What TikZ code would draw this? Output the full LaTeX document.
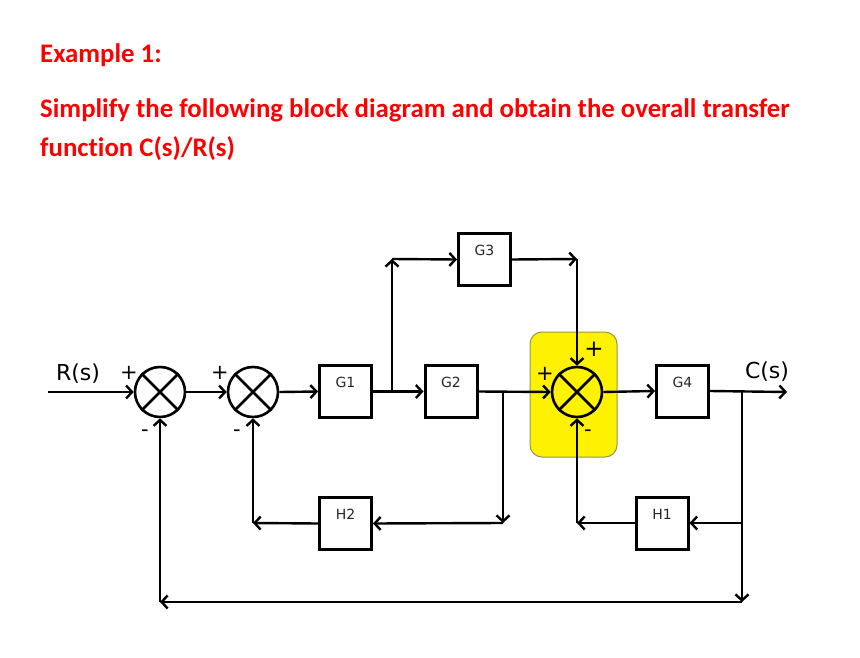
\documentclass[tikz,border=0pt]{standalone}
\usepackage{fontspec}
\setmainfont{Carlito}[Ligatures=NoCommon]
\newfontfamily\lblfont{DejaVu Sans}
\usetikzlibrary{arrows.meta}
\begin{document}
\begin{tikzpicture}[x=1pt,y=-1pt,
  wire/.style={line width=2.4pt},
  arr/.style={wire,-{Straight Barb[length=6pt,width=13pt,line width=2.4pt]}},
  blk/.style={draw,line width=3pt,minimum width=52pt,minimum height=52pt,inner sep=0pt,fill=white},
  sumc/.style={draw,circle,line width=2.6pt,minimum size=50pt,inner sep=0pt},
  blabel/.style={font=\lblfont\fontsize{14}{16}\selectfont,text=black!85},
  sgn/.style={font=\lblfont\fontsize{21}{24}\selectfont},
  title/.style={font=\fontsize{26.8}{30}\selectfont\bfseries,text=red,anchor=base west,inner sep=0pt}
]
\useasboundingbox (0,0) rectangle (860,658);
% title
\node[title] (t1) at (40,63) {Example 1:};
\node[title] (t2) at (40,118) {Simplify the following block diagram and obtain the overall transfer};
\node[title] (t3) at (40,157) {function C(s)/R(s)};
% highlight
\node[draw=black!45!yellow,fill=yellow,line width=1pt,rounded corners=12pt,minimum width=87pt,minimum height=125pt] (hl) at (573.5,394.5) {};
% summing junctions
\foreach \n/\x in {s1/160,s2/253,s3/577}{
  \node[sumc] (\n) at (\x,392) {};
  \draw[line width=2.6pt] (\n.north east) -- (\n.south west) (\n.north west) -- (\n.south east);
}
% blocks
\node[blk] (G1) at (345.5,391.5) {};
\node[blk] (G2) at (451,391.5) {};
\node[blk] (G3) at (484.5,259.5) {};
\node[blk] (G4) at (682.5,391) {};
\node[blk] (H2) at (345.5,523.5) {};
\node[blk] (H1) at (662,523) {};
\foreach \b/\t in {G1/G1,G2/G2,G3/G3,G4/G4,H2/H2,H1/H1}{
  \node[blabel] (\b l) at ([yshift=9pt]\b.center) {\t};
}
% coordinates
\coordinate (in) at (48,392);
\coordinate (b1) at (392,392);
\coordinate (c1) at (392,259);
\coordinate (c2) at (577,259);
\coordinate (b2) at (503,392);
\coordinate (c3) at (503,523);
\coordinate (c4) at (253,523);
\coordinate (b3) at (742,392);
\coordinate (out) at (787,392);
\coordinate (b4) at (742,523);
\coordinate (c5) at (577,523);
\coordinate (c6) at (742,602);
\coordinate (c7) at (160,602);
% forward path
\draw[arr] (in) -- (s1.west);
\draw[arr] (s1.east) -- (s2.west);
\draw[arr] (s2.east) -- (G1.west);
\draw[arr] (G1.east) -- (G2.west);
\draw[arr] (G2.east) -- (s3.west);
\draw[arr] (s3.east) -- (G4.west);
\draw[arr] (G4.east) -- (out);
% G3 feedforward
\draw[arr] (b1) -- (c1);
\draw[arr] (c1) -- (G3.west);
\draw[arr] (G3.east) -- (c2);
\draw[arr] (c2) -- (s3.north);
% H2 loop
\draw[arr] (b2) -- (c3);
\draw[arr] (c3) -- (H2.east);
\draw[arr] (H2.west) -- (c4);
\draw[arr] (c4) -- (s2.south);
% H1 loop
\draw[wire] (b3) -- (b4);
\draw[arr] (b4) -- (H1.east);
\draw[arr] (H1.west) -- (c5);
\draw[arr] (c5) -- (s3.south);
% unity feedback
\draw[arr] (b4) -- (c6);
\draw[arr] (c6) -- (c7);
\draw[arr] (c7) -- (s1.south);
% labels
\node[font=\lblfont\fontsize{22}{24}\selectfont] (R) at (78,374) {R(s)};
\node[font=\lblfont\fontsize{22}{24}\selectfont] (C) at (767,372) {C(s)};
\node[sgn] (p1) at (129,373) {+};
\node[sgn] (m1) at (145,433) {-};
\node[sgn] (p2) at (220,373) {+};
\node[sgn] (m2) at (237,433) {-};
\node[sgn,font=\lblfont\fontsize{23}{24}\selectfont] (p3) at (594,349) {+};
\node[sgn] (p4) at (545,374) {+};
\node[sgn] (m3) at (588,433) {-};
\end{tikzpicture}
\end{document}
